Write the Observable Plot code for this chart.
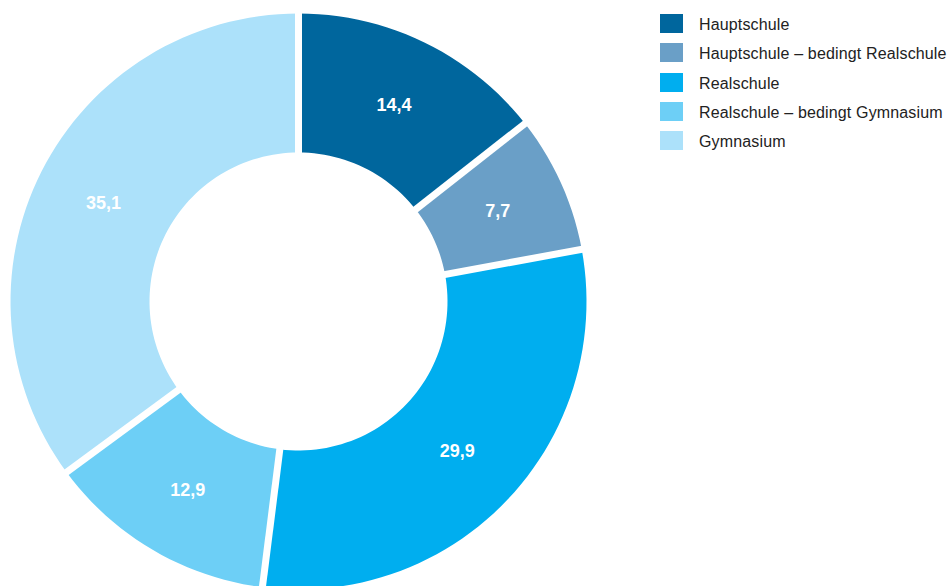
<!DOCTYPE html>
<html>
<head>
<meta charset="utf-8">
<script src="https://cdn.jsdelivr.net/npm/d3@7"></script>
<script src="https://cdn.jsdelivr.net/npm/@observablehq/plot@0.6"></script>
<style>
  html, body { margin: 0; padding: 0; background: #fff; overflow: hidden; }
  body { width: 951px; height: 586px; position: relative; font-family: Arial, "Liberation Sans", sans-serif; }
  #chart { position: absolute; left: 0; top: 0; }
  #legend { position: absolute; left: 660px; top: 14px; }
  .item { display: flex; align-items: center; height: 19px; margin-bottom: 10.3px; }
  .sw { width: 23px; height: 19px; margin-right: 16px; flex: none; }
  .lab { font-size: 16px; letter-spacing: 0.15px; color: #222; white-space: nowrap; line-height: 19px; position: relative; top: 1px; }
</style>
</head>
<body>
<div id="chart"></div>
<div id="legend"></div>
<script>
const categories = ["Hauptschule", "Hauptschule – bedingt Realschule", "Realschule", "Realschule – bedingt Gymnasium", "Gymnasium"];
const values = [14.4, 7.7, 29.9, 12.9, 35.1];
const colors = ["#00669d", "#6a9fc7", "#00aeef", "#6dcff6", "#ace1fa"];

const innerR = 149 / 288;
const outerR = 1;
const total = d3.sum(values);

// build slice polygons from the data (angles measured clockwise from top)
const polys = [];
const labels = [];
const bounds = [];
let cum = 0;
values.forEach((v, i) => {
  const a0 = cum / total * 2 * Math.PI;
  cum += v;
  const a1 = cum / total * 2 * Math.PI;
  bounds.push({a: a0});
  const n = Math.max(4, Math.ceil((a1 - a0) / (Math.PI / 90)));
  const pts = [];
  for (let k = 0; k <= n; k++) {
    const a = a0 + (a1 - a0) * k / n;
    pts.push({cat: categories[i], x: outerR * Math.sin(a), y: outerR * Math.cos(a)});
  }
  for (let k = n; k >= 0; k--) {
    const a = a0 + (a1 - a0) * k / n;
    pts.push({cat: categories[i], x: innerR * Math.sin(a), y: innerR * Math.cos(a)});
  }
  polys.push(...pts);
  const am = (a0 + a1) / 2, rm = (innerR + outerR) / 2;
  labels.push({cat: categories[i], value: v, x: rm * Math.sin(am), y: rm * Math.cos(am)});
});

const fmt = v => v.toFixed(1).replace(".", ",");

const chart = Plot.plot({
  width: 951,
  height: 586,
  margin: 0,
  style: {fontFamily: "Arial, 'Liberation Sans', sans-serif", background: "transparent"},
  x: {domain: [-1, 1], range: [10, 586], axis: null},
  y: {domain: [-1, 1], range: [589, 13], axis: null},
  color: {domain: categories, range: colors},
  marks: [
    Plot.line(polys, {x: "x", y: "y", z: "cat", fill: "cat", stroke: "none", curve: "linear-closed"}),
    Plot.link(bounds, {
      x1: 0, y1: 0,
      x2: d => 1.05 * Math.sin(d.a), y2: d => 1.05 * Math.cos(d.a),
      stroke: "white", strokeWidth: 7
    }),
    Plot.text(labels, {
      x: "x", y: "y", text: d => fmt(d.value),
      fill: "white", fontSize: 18, fontWeight: "bold"
    })
  ]
});
document.getElementById("chart").appendChild(chart);

const legend = document.getElementById("legend");
categories.forEach((c, i) => {
  const item = document.createElement("div");
  item.className = "item";
  const sw = document.createElement("div");
  sw.className = "sw";
  sw.style.background = colors[i];
  const lab = document.createElement("span");
  lab.className = "lab";
  lab.textContent = c;
  item.appendChild(sw);
  item.appendChild(lab);
  legend.appendChild(item);
});
</script>
</body>
</html>
